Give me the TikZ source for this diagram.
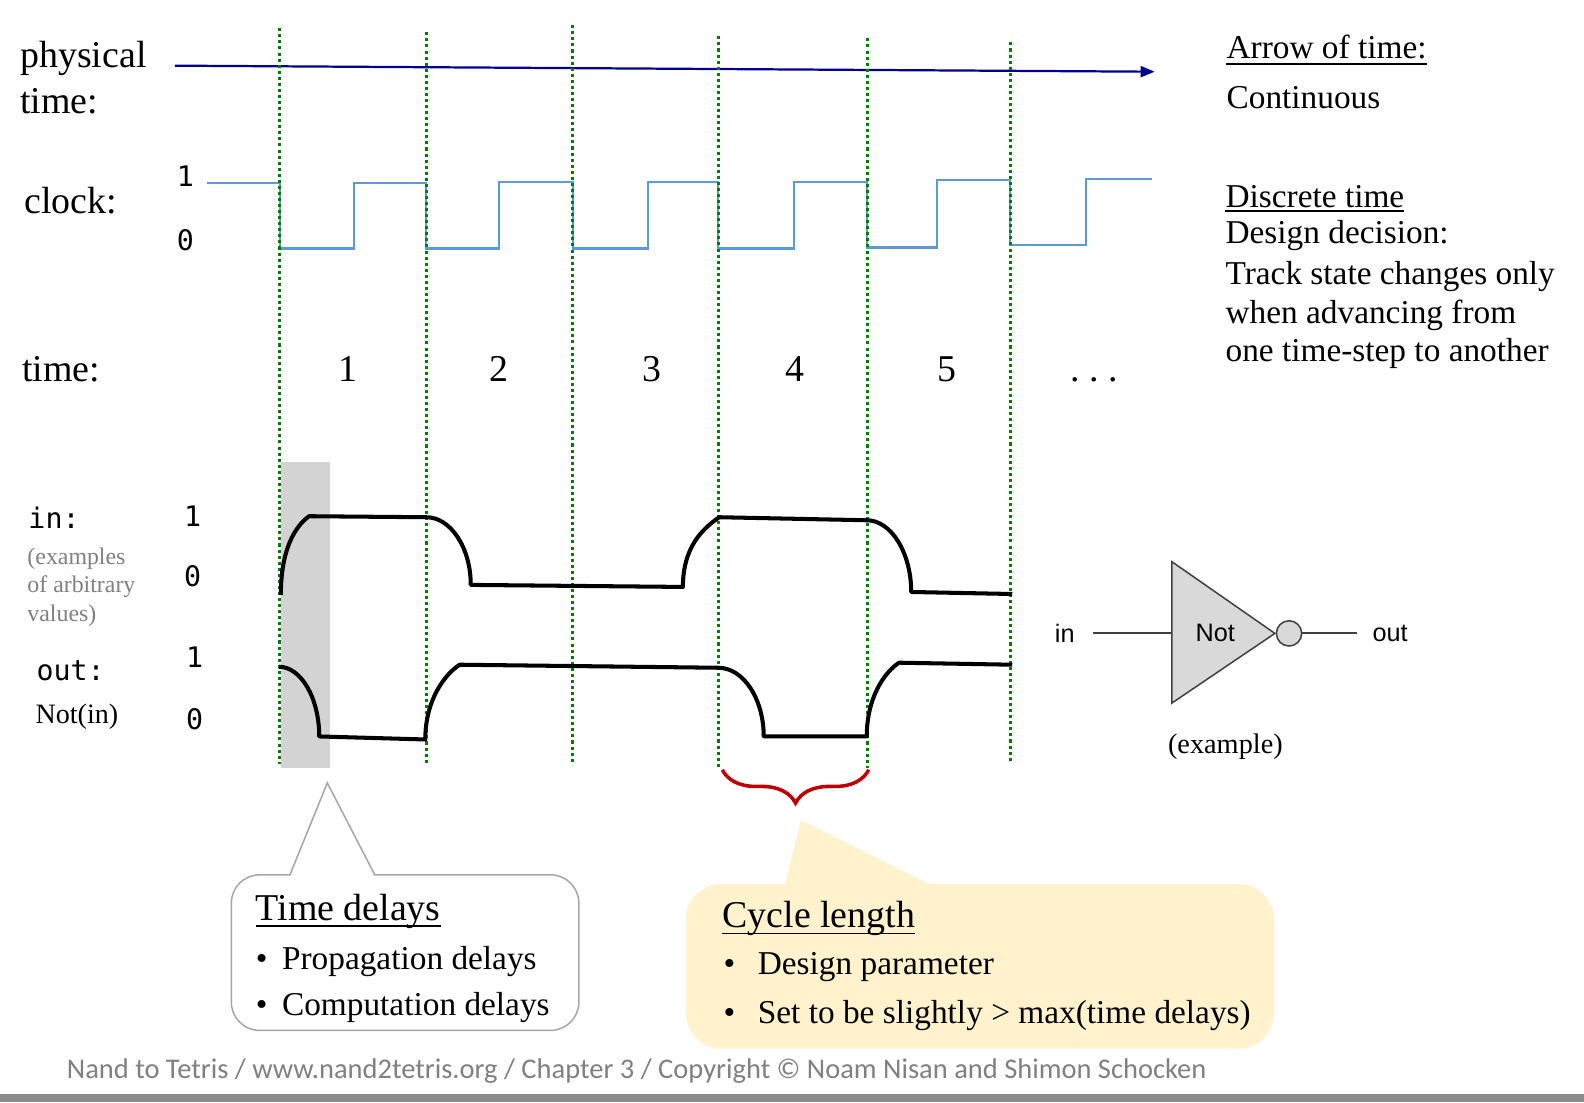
\documentclass[tikz,border=0pt]{standalone}
\usepackage{fontspec}
\setmainfont{Liberation Serif}
\setmonofont[RawFeature=+zero]{DejaVu Sans Mono}
\newfontfamily\gatefont{Liberation Sans}
\newfontfamily\footfont{Carlito}
\usepackage{tikz}
\usetikzlibrary{arrows.meta}
\usetikzlibrary{decorations.pathreplacing}

\definecolor{timeblue}{RGB}{0,0,140}
\definecolor{clockblue}{RGB}{91,155,213}
\definecolor{stepgreen}{RGB}{0,125,0}
\definecolor{bracered}{RGB}{192,0,0}
\definecolor{delaygray}{RGB}{211,211,211}
\definecolor{notegray}{RGB}{128,128,128}
\definecolor{cycleyellow}{RGB}{255,242,204}
\definecolor{boxgray}{RGB}{166,166,166}
\definecolor{gatefill}{RGB}{217,217,217}
\definecolor{gateline}{RGB}{64,64,64}
\definecolor{bargray}{RGB}{140,140,140}

\tikzset{
  biglbl/.style={font=\fontsize{37.5}{44}\selectfont},
  txt/.style={font=\fontsize{33}{39}\selectfont},
  bit/.style={font=\ttfamily\fontsize{28}{33}\selectfont},
  grayhint/.style={font=\fontsize{23.6}{28}\selectfont, text=notegray},
  gatetxt/.style={font=\gatefont\fontsize{25}{30}\selectfont, anchor=center},
  stepline/.style={stepgreen, line width=3pt, dash pattern=on 3pt off 3pt},
  signal/.style={line width=4pt, line join=round},
  uline/.style={line width=1.8pt},
}

\begin{document}
\begin{tikzpicture}[x=1pt, y=-1pt, anchor=base west, inner sep=0pt]
      \useasboundingbox (0,0) rectangle (1568,1091);
      \fill[white] (0,0) rectangle (1568,1091);
      \fill[bargray] (0,1083) rectangle (1568,1091);

      % physical time
      \node[biglbl] (phys) at (20,67) {physical};
      \node[biglbl] (physb) at (20,112) {time:};
      \draw[timeblue, line width=2.2pt, -{Triangle[length=14pt,width=11pt]}] (173,65) -- (1143,71);

      % clock
      \node[biglbl] (clk) at (24,211) {clock:};
      \node[bit] (c1) at (175,185) {1};
      \node[bit] (c0) at (175,248) {0};
      \draw[clockblue, line width=2pt] (205,181) -- (277,181) -- (277,246) -- (350,246)
        -- (350,181) -- (422,181) -- (422,246) -- (494,246) -- (494,180) -- (567,180)
        -- (567,246) -- (641,246) -- (641,180) -- (711,180) -- (711,246) -- (786,246)
        -- (786,180) -- (858,180) -- (858,245) -- (928,245) -- (928,178) -- (1000,178)
        -- (1000,243) -- (1075,243) -- (1075,177) -- (1140,177);

      % time steps
      \node[biglbl] (tm) at (22,378) {time:};
      \node[biglbl, anchor=base] (t1) at (344,378) {1};
      \node[biglbl, anchor=base] (t2) at (494,378) {2};
      \node[biglbl, anchor=base] (t3) at (645,378) {3};
      \node[biglbl, anchor=base] (t4) at (787,378) {4};
      \node[biglbl, anchor=base] (t5) at (937,378) {5};
      \node[biglbl, anchor=base] (tdots) at (1083,378) {.\ .\ .};

      \fill[delaygray] (278,457) rectangle (327,760);

      \draw[stepline] (277,28) -- (277,756);
      \draw[stepline] (422,32) -- (422,757);
      \draw[stepline] (567,25) -- (567,757);
      \draw[stepline] (711,36) -- (711,761);
      \draw[stepline] (859,38) -- (859,760);
      \draw[stepline] (1000,42) -- (1000,755);

      % in / out signals
      \node[bit] (inlbl) at (28,523) {in:};
      \node[grayhint] (ex1) at (27,559) {(examples};
      \node[grayhint] (ex2) at (27,587) {of arbitrary};
      \node[grayhint] (ex3) at (27,615) {values)};
      \node[bit] (in1) at (182,521) {1};
      \node[bit] (in0) at (182,581) {0};
      \node[bit] (outlbl) at (36,674) {out:};
      \node[font=\fontsize{27.8}{33}\selectfont] (notin) at (35,716) {Not(in)};
      \node[bit] (out1) at (184,661) {1};
      \node[bit] (out0) at (184,722) {0};

      \draw[signal] (278,589) .. controls (278,544) and (292,521) .. (306,511) -- (422,512)
        .. controls (446,512) and (466,542) .. (466,579) -- (676,581)
        .. controls (676,541) and (696,523) .. (712,512) -- (858,515)
        .. controls (882,515) and (902,547) .. (902,586) -- (1002,588);
      \draw[signal] (276,660) .. controls (298,660) and (316,691) .. (316,729) -- (421,732)
        .. controls (421,692) and (441,667) .. (455,658) -- (711,661)
        .. controls (736,661) and (756,692) .. (756,729) -- (858,729)
        .. controls (858,690) and (876,665) .. (890,656) -- (1002,658);

      \draw[bracered, line width=3.5pt, decorate, decoration={brace, amplitude=33pt}] (860,762) -- (715,762);

      % right notes
      \node[txt] (arrowhd) at (1214,58) {Arrow of time:};
      \draw[uline] ([yshift=-5pt]arrowhd.base west) -- ([yshift=-5pt]arrowhd.base east);
      \node[txt] (contin) at (1214,107) {Continuous};
      \node[txt] (discrhd) at (1213,205) {Discrete time};
      \draw[uline] ([yshift=-4pt]discrhd.base west) -- ([yshift=-4pt]discrhd.base east);
      \node[txt] (dl1) at (1213,241) {Design decision:};
      \node[txt] (dl2) at (1213,282) {Track state changes only};
      \node[txt] (dl3) at (1213,320) {when advancing from};
      \node[txt] (dl4) at (1213,358) {one time-step to another};

      % Not gate
      \node[gatetxt] (gin) at (1054,627) {in};
      \coordinate (gbase) at (1160,627);
      \filldraw[fill=gatefill, draw=gateline, line width=1.5pt] (1160,556) -- (1262,627) -- (1160,696) -- cycle;
      \node[gatetxt] (gname) at (1203,627) {Not};
      \node[circle, draw=gateline, fill=gatefill, line width=1.5pt, minimum size=25pt, anchor=center] (bubble) at (1276,627) {};
      \node[gatetxt] (gout) at (1376,627) {out};
      \draw[gateline, line width=1.8pt, shorten <=18pt] (gin) -- (gbase);
      \draw[gateline, line width=1.8pt, shorten >=15pt] (bubble) -- (gout);
      \node[font=\fontsize{28}{33}\selectfont, anchor=base] (gexample) at (1213,746) {(example)};

      % callouts
      \draw[boxgray, line width=1.5pt, fill=white, rounded corners=28pt] (229,866) rectangle (573,1020);
      \fill[white] (287,868) -- (324,775) -- (371,868) -- cycle;
      \draw[boxgray, line width=1.5pt] (287,866) -- (324,775) -- (371,866);
      \node[biglbl] (tdhead) at (253,911) {Time delays};
      \draw[uline] ([yshift=-6pt]tdhead.base west) -- ([yshift=-6pt]tdhead.base east);
      \node[txt] (tdb1) at (253,960) {\textbullet};
      \node[txt] (tdi1) at (279,960) {Propagation delays};
      \node[txt] (tdb2) at (253,1005) {\textbullet};
      \node[txt] (tdi2) at (279,1005) {Computation delays};

      \fill[cycleyellow, rounded corners=35pt] (679,875) rectangle (1261,1038);
      \fill[cycleyellow] (777,876) -- (793,812) -- (921,876) -- cycle;
      \node[biglbl] (clhead) at (715,918) {Cycle length};
      \draw[uline] ([yshift=-6pt]clhead.base west) -- ([yshift=-6pt]clhead.base east);
      \node[txt] (clb1) at (716,965) {\textbullet};
      \node[txt] (cli1) at (750,965) {Design parameter};
      \node[txt] (clb2) at (716,1013) {\textbullet};
      \node[txt] (cli2) at (750,1013) {Set to be slightly > max(time delays)};

      \node[font=\footfont\fontsize{28.2}{33}\selectfont, text=notegray] (footer) at (66,1068) {Nand to Tetris / www.nand2tetris.org / Chapter 3 / Copyright © Noam Nisan and Shimon Schocken};
    \end{tikzpicture}
\end{document}
